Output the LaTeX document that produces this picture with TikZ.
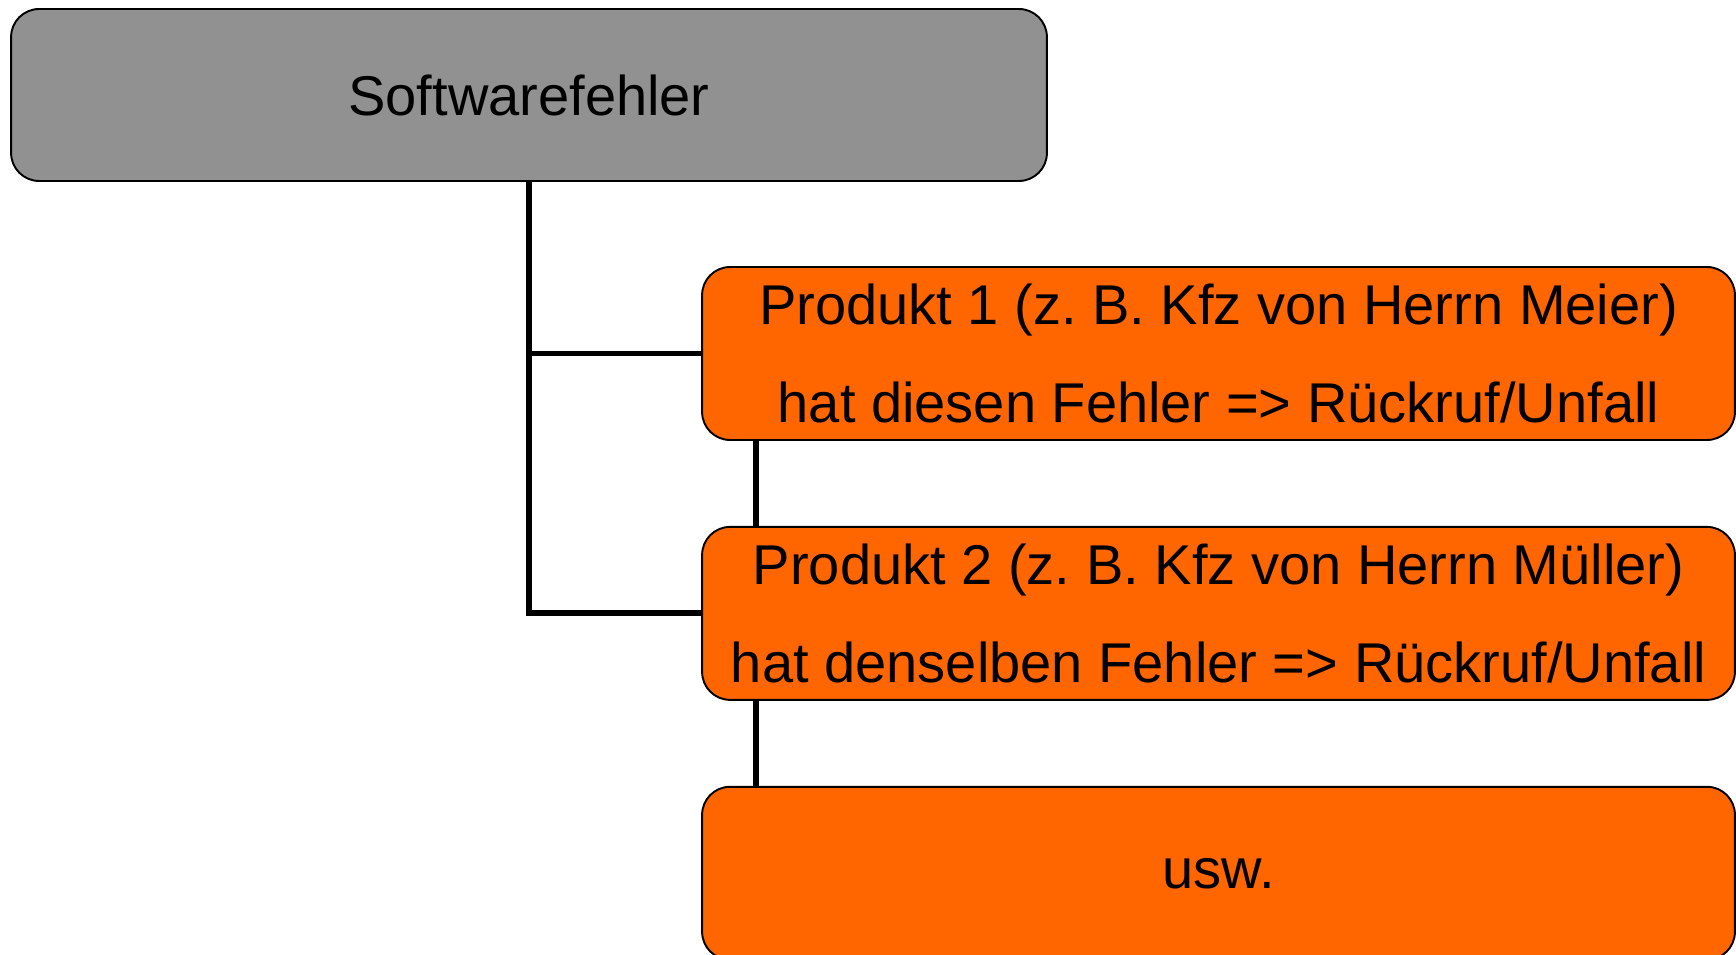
\documentclass[tikz,border=0pt]{standalone}
\usepackage{fontspec}
\setmainfont{Liberation Sans}
\usetikzlibrary{positioning}
\frenchspacing

\definecolor{boxgray}{HTML}{919191}
\definecolor{boxorange}{HTML}{FF6600}

\tikzset{
	fbox/.style={draw=black, line width=1.1pt, rounded corners=0.56cm, align=center,
		minimum width=20.66cm, minimum height=3.46cm, inner sep=0pt,
		font=\fontsize{31.9}{55.8}\selectfont},
	link/.style={line width=3.4pt}
}

\begin{document}
\begin{tikzpicture}[x=0.02cm, y=-0.02cm]
	\useasboundingbox (0, 0) rectangle (1736, 955);
	\clip (0, 0) rectangle (1736, 955);
	\coordinate (V) at (756, 0);

	\node [fbox, fill=boxgray, minimum width=20.72cm, minimum height=3.44cm] (fehler) at (529, 95) {Softwarefehler};
	\node [fbox, fill=boxorange] (prod1) at (1218.5, 353.5) {Produkt 1 (z. B. Kfz von Herrn Meier)\\hat diesen Fehler => Rückruf/Unfall};
	\node [fbox, fill=boxorange, below=1.70cm of prod1] (prod2) {Produkt 2 (z. B. Kfz von Herrn Müller)\\hat denselben Fehler => Rückruf/Unfall};
	\node [fbox, fill=boxorange, below=1.70cm of prod2] (usw) {usw.};

	\draw [link] (fehler.south) |- (prod1.west);
	\draw [link] (fehler.south) |- (prod2.west);
	\draw [link] (prod1.south -| V) -- (prod2.north -| V);
	\draw [link] (prod2.south -| V) -- (usw.north -| V);
\end{tikzpicture}
\end{document}
